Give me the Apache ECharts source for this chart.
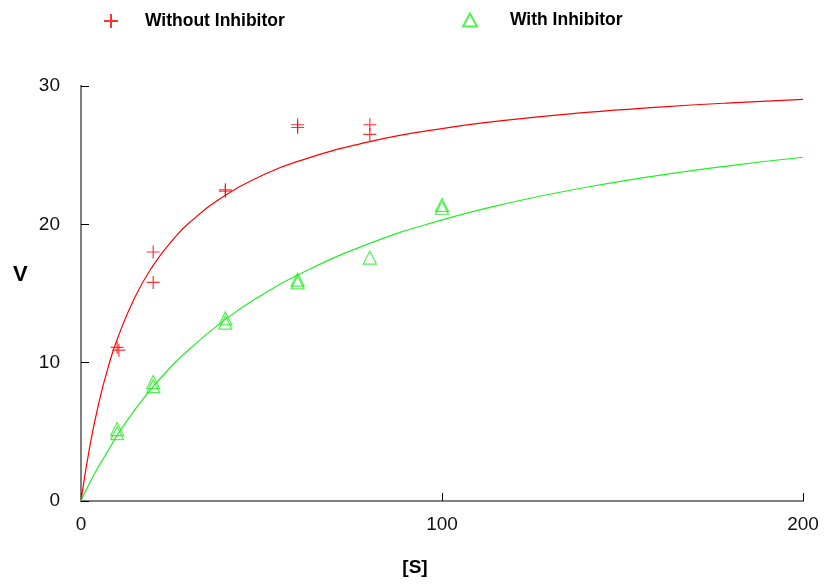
<!DOCTYPE html>
<html>
<head>
<meta charset="utf-8">
<script src="https://cdn.jsdelivr.net/npm/echarts@6/dist/echarts.min.js"></script>
<style>html,body{margin:0;padding:0;background:#fff}#c{width:825px;height:584px}</style>
</head>
<body>
<div id="c"></div>
<script>
// Observed data points [S, V]
var withoutInhibitor = [[10,11.1],[10.5,10.9],[20,18.0],[20,15.8],[40,22.5],[40,22.4],[60,27.2],[60,27.0],[80,27.2],[80,26.5]];
var withInhibitor = [[10,5.2],[10,4.9],[20,8.6],[20,8.3],[40,13.2],[40,12.9],[60,16.0],[60,15.8],[80,17.6],[100,21.4],[100,21.2]];
// Fitted curves
var curveS = [0,2.5,5,7.5,10,15,20,25,30,40,50,60,80,100,120,140,160,180,200];
var curveWithout = [0,4.04,7.16,9.64,11.67,14.77,17.03,18.75,20.11,22.11,23.51,24.55,25.98,26.92,27.59,28.09,28.47,28.78,29.03];
var curveWith = [0,1.36,2.56,3.62,4.74,6.63,8.26,9.72,10.97,13.13,14.88,16.34,18.62,20.32,21.63,22.68,23.54,24.25,24.85];
var xTicks = [0,100,200];
var yTicks = [0,10,20,30];

function pairs(xs, ys){ return xs.map(function(x,i){return [x, ys[i]];}); }

var RED = '#ff0000', GREEN = '#22ee22', FRAME = '#808080';
var FONT = 'Liberation Sans, Arial, sans-serif';
var tickFont = {fontFamily:FONT, fontSize:19, color:'#111'};
var plusPath = 'path://M6,0L6,12M0,6L12,6';

var chart = echarts.init(document.getElementById('c'), null, {renderer:'canvas'});
chart.setOption({
  animation:false,
  backgroundColor:'#fff',
  legend:[
    {data:[{name:'Without Inhibitor', icon:plusPath}], left:98, top:7, itemWidth:14, itemHeight:14,
     textStyle:{fontFamily:FONT, fontWeight:'bold', fontSize:17.5, color:'#000', padding:[0,0,0,22]}},
    {data:[{name:'With Inhibitor', icon:'triangle'}], left:457, top:6, itemWidth:14, itemHeight:13,
     textStyle:{fontFamily:FONT, fontWeight:'bold', fontSize:17.5, color:'#000', padding:[0,0,0,28]}}
  ],
  graphic:[
    {type:'text', left:13, top:264, style:{text:'V', fontFamily:FONT, fontWeight:'bold', fontSize:22, fill:'#000'}}
  ],
  grid:{left:81, right:22, top:86, bottom:83},
  xAxis:[
    {type:'value', min:0, max:200, interval:100, position:'bottom',
     name:'[S]', nameLocation:'middle', nameGap:57,
     nameTextStyle:{fontFamily:FONT, fontWeight:'bold', fontSize:19, color:'#000', padding:[0,54,0,0]},
     axisLine:{show:true, lineStyle:{color:'#000', width:1}},
     axisTick:{show:true, inside:true, length:8, lineStyle:{color:'#000'}},
     axisLabel:Object.assign({margin:14, formatter:function(v){return xTicks.indexOf(v)>=0?String(v):'';}}, tickFont),
     splitLine:{show:false}},
    {type:'value', min:0, max:200, position:'top',
     axisLine:{show:true, lineStyle:{color:FRAME, width:2}}, axisTick:{show:false}, axisLabel:{show:false}, splitLine:{show:false}}
  ],
  yAxis:[
    {type:'value', min:0, max:30, interval:10, position:'left',
     axisLine:{show:true, lineStyle:{color:FRAME, width:2}},
     axisTick:{show:true, inside:true, length:8, lineStyle:{color:'#000'}},
     axisLabel:Object.assign({margin:21, formatter:function(v){return yTicks.indexOf(v)>=0?String(v):'';}}, tickFont),
     splitLine:{show:false}},
    {type:'value', min:0, max:30, position:'right',
     axisLine:{show:true, lineStyle:{color:FRAME, width:2}}, axisTick:{show:false}, axisLabel:{show:false}, splitLine:{show:false}}
  ],
  series:[
    {name:'fitWithout', type:'line', data:pairs(curveS, curveWithout), smooth:true, showSymbol:false,
     lineStyle:{color:RED, width:1.2}, silent:true, z:2},
    {name:'fitWith', type:'line', data:pairs(curveS, curveWith), smooth:true, showSymbol:false,
     lineStyle:{color:GREEN, width:1.2}, silent:true, z:2},
    {name:'Without Inhibitor', type:'scatter', data:withoutInhibitor, symbol:plusPath, symbolSize:13,
     itemStyle:{color:'rgba(0,0,0,0)', borderColor:RED, borderWidth:1.2}, z:3},
    {name:'With Inhibitor', type:'scatter', data:withInhibitor, symbol:'triangle', symbolSize:[13,13],
     itemStyle:{color:'rgba(0,0,0,0)', borderColor:GREEN, borderWidth:1.2}, z:3}
  ]
});
</script>
</body>
</html>
